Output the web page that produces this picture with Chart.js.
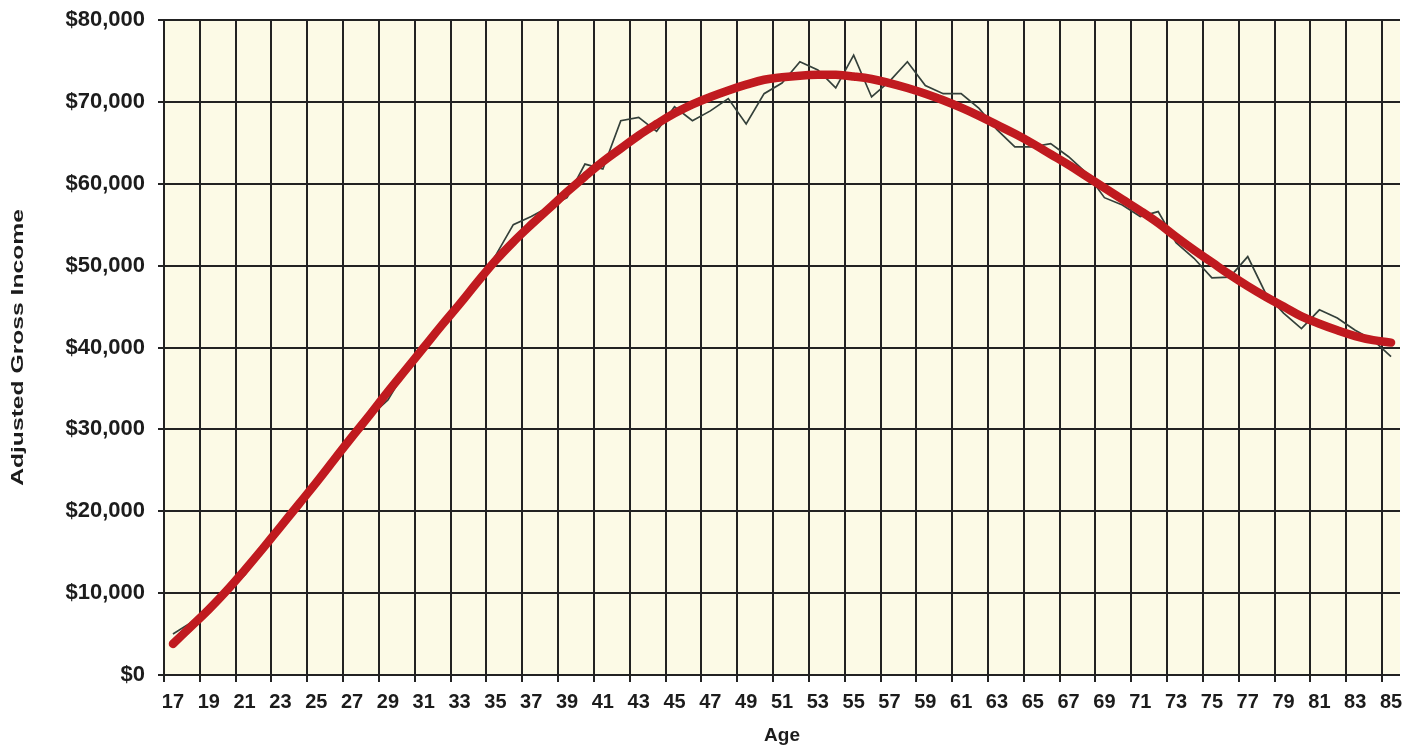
<!DOCTYPE html>
<html>
<head>
<meta charset="utf-8">
<script src="https://cdn.jsdelivr.net/npm/chart.js@4"></script>
<style>
  html, body { margin: 0; padding: 0; background: #fff; }
  #wrap { width: 1419px; height: 747px; }
</style>
</head>
<body>
<div id="wrap"><canvas id="agiChart"></canvas></div>
<script>
var ages = ['17', '18', '19', '20', '21', '22', '23', '24', '25', '26', '27', '28', '29', '30',
  '31', '32', '33', '34', '35', '36', '37', '38', '39', '40', '41', '42', '43', '44', '45', '46',
  '47', '48', '49', '50', '51', '52', '53', '54', '55', '56', '57', '58', '59', '60', '61', '62',
  '63', '64', '65', '66', '67', '68', '69', '70', '71', '72', '73', '74', '75', '76', '77', '78',
  '79', '80', '81', '82', '83', '84', '85'];

// actual AGI by age (thin line), dollars
var actual = [5000, 6400, 8200, 10200, 12200, 15200, 18000, 20800, 23600, 26400, 29000, 31600, 33600,
  37200, 40200, 42800, 45400, 48000, 51200, 55000, 56000, 57200, 58300, 62400, 61800, 67700, 68100,
  66400, 69400, 67700, 68900, 70400, 67300, 71000, 72300, 74900, 73900, 71700, 75700, 70600, 72500,
  74900, 72000, 71000, 71000, 69200, 66600, 64500, 64500, 64900, 63300, 61300, 58300, 57400, 56000,
  56600, 52800, 50900, 48500, 48600, 51100, 46600, 44200, 42300, 44600, 43600, 42100, 40900, 38900];

// fitted trend (thick red line), dollars
var trend = [3800, 5900, 8000, 10300, 12800, 15400, 18100, 20800, 23500, 26300, 29100, 31800, 34600,
  37300, 40000, 42700, 45300, 48000, 50600, 52900, 55000, 57000, 59000, 60900, 62700, 64300, 65900,
  67300, 68600, 69700, 70600, 71400, 72100, 72700, 73000, 73200, 73300, 73300, 73100, 72800, 72300,
  71700, 71000, 70200, 69300, 68300, 67200, 66100, 64900, 63600, 62300, 60900, 59500, 58100, 56700,
  55200, 53500, 51900, 50400, 48900, 47500, 46200, 45000, 43800, 42900, 42100, 41400, 40900, 40600];

var yTicks = [0, 10000, 20000, 30000, 40000, 50000, 60000, 70000, 80000];
var yTitle = 'Adjusted Gross Income';

var gridColor = '#222';
var textColor = '#1c1c1c';
var fontFamily = '"Liberation Sans", Arial, sans-serif';

var plotBackground = {
  id: 'plotBackground',
  beforeDraw: function (chart) {
    var a = chart.chartArea;
    var ctx = chart.ctx;
    ctx.save();
    ctx.fillStyle = '#fcfae6';
    ctx.fillRect(a.left, a.top, a.right - a.left, a.bottom - a.top);
    ctx.restore();
  }
};

// y title drawn by hand: the original's lettering is stretched along the text
var stretchedYTitle = {
  id: 'stretchedYTitle',
  afterDraw: function (chart) {
    var a = chart.chartArea;
    var ctx = chart.ctx;
    ctx.save();
    ctx.translate(18, (a.top + a.bottom) / 2);
    ctx.rotate(-Math.PI / 2);
    ctx.scale(1.45, 1);
    ctx.font = 'bold 17px ' + fontFamily;
    ctx.fillStyle = textColor;
    ctx.textAlign = 'center';
    ctx.textBaseline = 'middle';
    ctx.fillText(yTitle, 0, 0);
    ctx.restore();
  }
};

new Chart(document.getElementById('agiChart'), {
  type: 'line',
  data: {
    labels: ages,
    datasets: [{
      label: 'Trend',
      data: trend,
      borderColor: '#c01a1f',
      borderWidth: 8.5,
      borderCapStyle: 'round',
      tension: 0.4,
      pointRadius: 0,
      order: 1
    }, {
      label: 'Adjusted Gross Income',
      data: actual,
      borderColor: '#34403a',
      borderWidth: 1.7,
      tension: 0,
      pointRadius: 0,
      order: 2
    }]
  },
  options: {
    responsive: true,
    maintainAspectRatio: false,
    animation: false,
    layout: { padding: { top: 20, right: 19, left: 0, bottom: 0 } },
    plugins: {
      legend: { display: false },
      tooltip: { enabled: false }
    },
    scales: {
      x: {
        offset: true,
        grid: {
          offset: true,
          color: function (ctx) { return ctx.index % 2 === 0 ? gridColor : 'rgba(0,0,0,0)'; },
          lineWidth: 2,
          tickLength: 7
        },
        border: { display: false },
        ticks: {
          autoSkip: false,
          maxRotation: 0,
          padding: 8,
          color: textColor,
          font: { family: fontFamily, size: 20, weight: 'bold' },
          callback: function (value, index) {
            return index % 2 === 0 ? this.getLabelForValue(value) : '';
          }
        },
        title: {
          display: true,
          text: 'Age',
          color: textColor,
          padding: { top: 0, bottom: 0 },
          font: { family: fontFamily, size: 19, weight: 'bold' }
        },
        afterFit: function (scale) { scale.height = 72; }
      },
      y: {
        min: 0,
        max: 80000,
        afterBuildTicks: function (scale) {
          scale.ticks = yTicks.map(function (v) { return { value: v }; });
        },
        grid: { color: gridColor, lineWidth: 2, tickLength: 6 },
        border: { color: gridColor, width: 2 },
        ticks: {
          padding: 13,
          color: textColor,
          font: { family: fontFamily, size: 22, weight: 'bold' },
          callback: function (value) { return '$' + value.toLocaleString('en-US'); }
        },
        afterFit: function (scale) {
          scale.width = 164;
          scale.paddingTop = 0;
          scale.paddingBottom = 0;
        }
      }
    }
  },
  plugins: [plotBackground, stretchedYTitle]
});
</script>
</body>
</html>
